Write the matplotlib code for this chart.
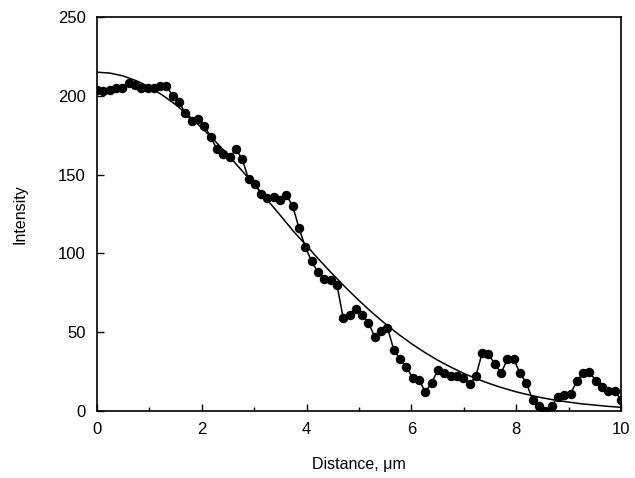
import numpy as np
import matplotlib
matplotlib.use("Agg")
import matplotlib.pyplot as plt
from matplotlib.ticker import MultipleLocator

plt.rcParams['font.family'] = ['Liberation Sans', 'DejaVu Sans']

# Measured intensity profile (84 samples from 0 to 10 um)
distance = np.linspace(0, 10, 84)
intensity = [204, 203, 204, 205, 205, 208, 207, 205, 205, 205,
             206, 206, 200, 196, 189, 184, 185, 181, 174, 166,
             163, 161, 166, 160, 147, 144, 138, 135, 136, 134,
             137, 130, 116, 104, 95, 88, 84, 83, 80, 59,
             61, 65, 61, 56, 47, 51, 53, 39, 33, 28,
             21, 20, 12, 18, 26, 24, 22, 22, 21, 17,
             22, 37, 36, 30, 24, 33, 33, 24, 18, 7,
             3, 0, 3, 9, 10, 11, 19, 24, 25, 19,
             15, 13, 13, 7]

# Smooth fitted curve, every 0.25 um
fit_x = [0, 0.25, 0.5, 0.75, 1, 1.25, 1.5, 1.75, 2, 2.25, 2.5, 2.75,
         3, 3.25, 3.5, 3.75, 4, 4.25, 4.5, 4.75, 5, 5.25, 5.5, 5.75,
         6, 6.25, 6.5, 6.75, 7, 7.25, 7.5, 7.75, 8, 8.25, 8.5, 8.75,
         9, 9.25, 9.5, 9.75, 10]
fit_y = [215, 214.4, 212.6, 209.6, 205.6, 200.4, 194.4, 187.4, 179.7, 171.4, 162.5, 153.1,
         143.6, 133.9, 124.1, 114.0, 104.9, 95.6, 86.7, 78.2, 70.1, 62.5, 55.4, 48.8,
         42.8, 37.3, 32.3, 27.9, 23.9, 20.4, 17.3, 14.6, 12.2, 10.2, 8.4, 6.9,
         5.7, 4.6, 3.8, 3.0, 2.4]

fig = plt.figure(figsize=(6.35, 4.78), dpi=100)
ax = fig.add_axes([0.1528, 0.140, 0.8252, 0.8244])

ax.plot(fit_x, fit_y, color='black', lw=1.1)
ax.plot(distance, intensity, color='black', lw=1.1, marker='o',
        markersize=5.8, markerfacecolor='black', markeredgecolor='black')

ax.set_xlim(0, 10)
ax.set_ylim(0, 250)
ax.xaxis.set_major_locator(MultipleLocator(2))
ax.xaxis.set_minor_locator(MultipleLocator(1))
ax.yaxis.set_major_locator(MultipleLocator(50))

ax.tick_params(axis='both', which='both', direction='in', top=False, right=False)
ax.tick_params(axis='both', which='major', length=5, width=1.0, labelsize=12, pad=8)
ax.tick_params(axis='x', which='minor', length=3, width=1.0)

for s in ax.spines.values():
    s.set_linewidth(1.2)

ax.set_xlabel('Distance, μm', fontsize=11.5, labelpad=14)
ax.set_ylabel('Intensity', fontsize=11.5, labelpad=22)

fig.savefig('out.png', dpi=100)
